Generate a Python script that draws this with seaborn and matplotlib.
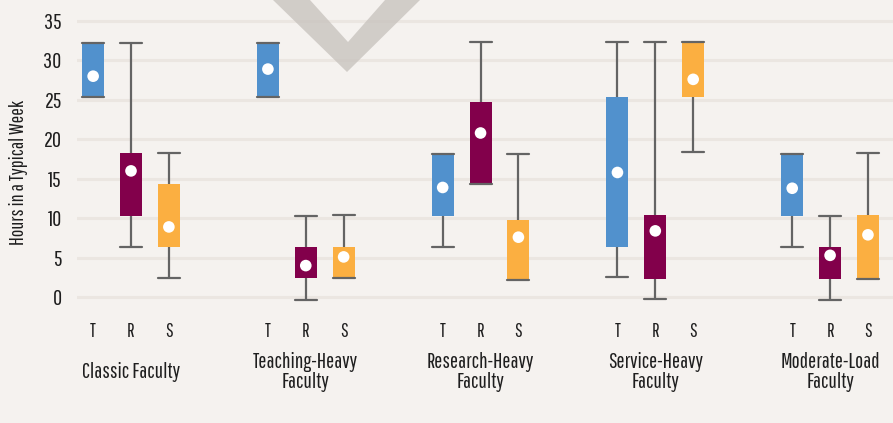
import numpy as np
import pandas as pd
import seaborn as sns
import matplotlib.pyplot as plt
import matplotlib.transforms as mtrans
from matplotlib.patches import Polygon

groups = ['Classic Faculty', 'Teaching-Heavy\nFaculty', 'Research-Heavy\nFaculty',
          'Service-Heavy\nFaculty', 'Moderate-Load\nFaculty']
roles = ['T', 'R', 'S']

# per group, order T, R, S
whisk_lo = [[25.3, 6.3, 2.4], [25.3, -0.3, 2.4], [6.3, 14.4, 2.2], [2.5, -0.25, 18.4], [6.3, -0.3, 2.3]]
q1 = [[25.3, 10.3, 6.4], [25.3, 2.4, 2.4], [10.3, 14.4, 2.2], [6.3, 2.3, 25.3], [10.3, 2.3, 2.3]]
q3 = [[32.2, 18.3, 14.3], [32.2, 6.3, 6.3], [18.2, 24.7, 9.8], [25.4, 10.4, 32.3], [18.2, 6.3, 10.4]]
whisk_hi = [[32.2, 32.2, 18.3], [32.2, 10.3, 10.4], [18.2, 32.3, 18.2], [32.3, 32.3, 32.3], [18.2, 10.3, 18.3]]
means = [[28.0, 16.0, 8.9], [28.9, 4.0, 5.1], [13.9, 20.8, 7.6], [15.8, 8.4, 27.6], [13.8, 5.3, 7.9]]

colors = {'T': '#5191cd', 'R': '#82004b', 'S': '#fbaf41'}
bg = '#f5f2ef'
txt = '#1e1e1e'

# five points per box so the quartiles land exactly on the read values
rows = []
for g, grp in enumerate(groups):
    for r, role in enumerate(roles):
        for v in [whisk_lo[g][r], q1[g][r], means[g][r], q3[g][r], whisk_hi[g][r]]:
            rows.append({'Group': grp, 'Role': role, 'Hours': v})
df = pd.DataFrame(rows)

sns.set_style('white')
plt.rcParams['font.family'] = ['Pathway Gothic One', 'DejaVu Sans']

fig = plt.figure(figsize=(8.93, 4.23), dpi=100)
fig.patch.set_facecolor(bg)
ax = fig.add_axes([77 / 893, (423 - 309) / 423, 816 / 893, 292 / 423])
ax.set_facecolor(bg)

width = 0.65
boxw = width / 3 * (1 - 0.42)
sns.boxplot(data=df, x='Group', y='Hours', hue='Role', order=groups, hue_order=roles,
            palette=colors, width=width, gap=0.42, whis=(0, 100), legend=False,
            saturation=1, ax=ax, linewidth=0,
            boxprops={'linewidth': 0},
            medianprops={'visible': False},
            whiskerprops={'color': '#646464', 'linewidth': 1.6},
            capprops={'color': '#646464', 'linewidth': 1.6},
            capwidths=boxw)

# mean markers
xs, ys = [], []
for g in range(len(groups)):
    for r in range(len(roles)):
        xs.append(g + (r - 1) * width / 3)
        ys.append(means[g][r])
sns.scatterplot(x=xs, y=ys, ax=ax, color='white', s=70, edgecolor='none', zorder=5)

ax.set_ylim(-1.5, 35.5)
ax.set_xlim(-0.309, 4.36)
ax.set_yticks(range(0, 36, 5))
ax.yaxis.grid(True, color='#ebe6e1', linewidth=2.2)
ax.set_axisbelow(True)
for s in ax.spines.values():
    s.set_visible(False)

ticks = [g + (r - 1) * width / 3 for g in range(len(groups)) for r in range(len(roles))]
ax.set_xticks(ticks)
ax.set_xticklabels(roles * len(groups), fontsize=14, color=txt)
ax.tick_params(axis='x', length=0, pad=9)
ax.tick_params(axis='y', length=0, pad=11, labelsize=16, labelcolor=txt)
ax.set_xlabel('')
ax.set_ylabel('Hours in a Typical Week', fontsize=14.5, color=txt)
ax.yaxis.set_label_coords(-0.06, 0.467)

trans = mtrans.blended_transform_factory(ax.transData, fig.transFigure)
for g, grp in enumerate(groups):
    ax.text(g, (423 - 371.5) / 423, grp, transform=trans, ha='center', va='center',
            fontsize=15.5, color=txt, linespacing=1.0)

# chevron watermark
pts = [(273, 0), (347, 72), (420, 0), (385, 0), (348, 42), (310, 0)]
pts = [(x / 893, 1 - y / 423) for x, y in pts]
fig.patches.append(Polygon(pts, closed=True, transform=fig.transFigure, facecolor='#c6c1bc',
                           edgecolor='none', alpha=0.75, zorder=3))

fig.savefig('out.png', dpi=100, facecolor=bg)
